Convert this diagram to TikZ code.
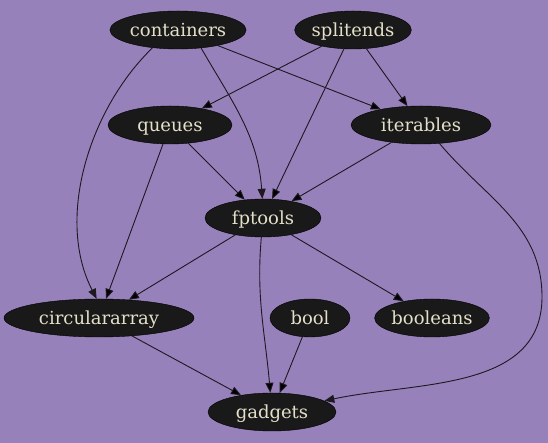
\documentclass[tikz,border=0pt]{standalone}
\usepackage{fontspec}
\setmainfont{DejaVu Serif}
\usetikzlibrary{arrows.meta, shapes.geometric}
\definecolor{bgpurple}{RGB}{151,129,187}
\definecolor{nodefill}{RGB}{26,25,26}
\definecolor{nodetext}{RGB}{228,224,200}
\definecolor{edgecol}{RGB}{30,25,32}
\tikzset{
>={Triangle[length=10pt,width=8pt]}, % filled heads like graphviz
pkg/.style={ellipse, draw=black, fill=nodefill, text=nodetext,
  minimum height=38pt, inner sep=0pt,
  text height=15pt, text depth=2pt, % same baseline for all labels
  font=\fontsize{18}{21}\selectfont}, % one package
dep/.style={->, draw=edgecol, line width=0.9pt}, % dependency
}

\begin{document}
\begin{tikzpicture}[x=1pt,y=1pt]
  \fill[bgpurple] (0,0) rectangle (548,443);
  \useasboundingbox (0,0) rectangle (548,443);

  \node[pkg, minimum width=132pt] (containers) at (178,413) {containers};
  \node[pkg, minimum width=116pt] (splitends) at (353,413) {splitends};
  \node[pkg, minimum width=124pt] (queues) at (170,318) {queues};
  \node[pkg, minimum width=140pt] (iterables) at (421,318) {iterables};
  \node[pkg, minimum width=116pt] (fptools) at (263,225) {fptools};
  \node[pkg, minimum width=190pt] (circulararray) at (99,125) {circulararray};
  \node[pkg, minimum width=80pt] (bool) at (310,125) {bool};
  \node[pkg, minimum width=114pt] (booleans) at (432,125) {booleans};
  \node[pkg, minimum width=128pt] (gadgets) at (272,31) {gadgets};
  \coordinate (ibend) at (542,146); % far right of iterables -> gadgets

  \path[dep]
  (containers)
  edge (iterables)

  (splitends)
  edge (queues)
  edge (fptools)
  edge (iterables)

  (queues)
  edge (circulararray)
  edge (fptools)

  (iterables)
  edge (fptools)

  (fptools)
  edge (circulararray)
  edge[out=-95, in=95] (gadgets)
  edge (booleans)

  (circulararray) edge (gadgets)
  (bool) edge (gadgets);

  % curved ones
  \draw[dep] (containers.-145) .. controls (90,335) and (55,225)
    .. (circulararray.97);
  \draw[dep] (containers.-38) to[out=-60, in=94] (fptools.92);
  \draw[dep] (iterables.-45) to[out=-50, in=90] (ibend)
    to[out=-90, in=12] (gadgets);
\end{tikzpicture}
\end{document}
